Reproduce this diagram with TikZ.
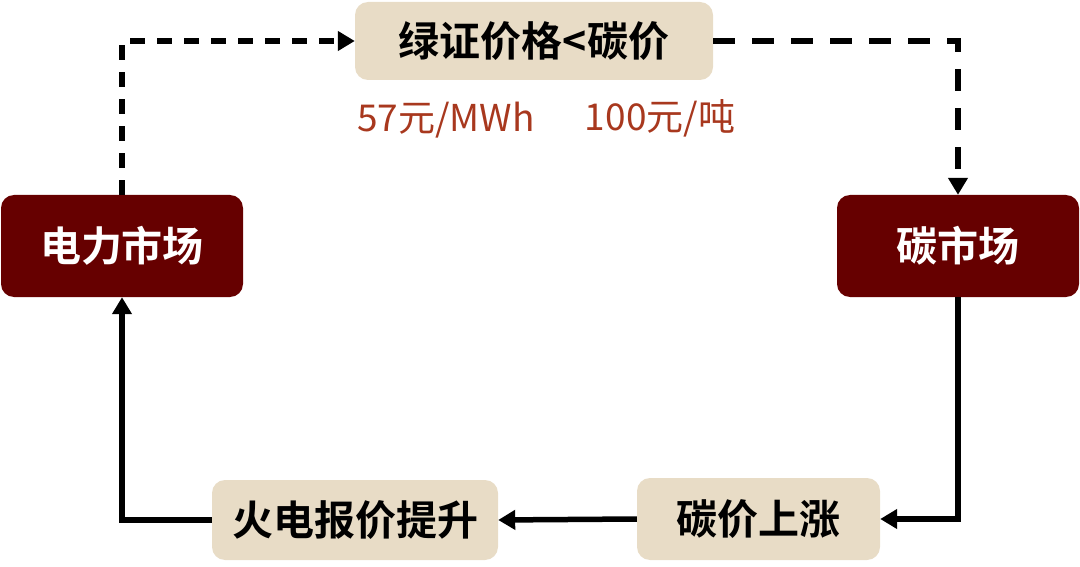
\documentclass[tikz,border=0pt]{standalone}
\usepackage{fontspec}
\newfontfamily\cjkb[BoldFont={* Bold}]{Noto Sans CJK SC}
\usetikzlibrary{arrows.meta}
\definecolor{darkbox}{HTML}{660000}
\definecolor{beige}{HTML}{E8DCC6}
\definecolor{lblred}{HTML}{A8381E}
\tikzset{
  darkst/.style={fill=darkbox, rounded corners=13pt, text=white, font=\cjkb\bfseries\fontsize{41}{46}\selectfont, inner sep=0pt},
  lightst/.style={fill=beige, rounded corners=13pt, text=black, font=\cjkb\bfseries\fontsize{41}{46}\selectfont, inner sep=0pt},
  lbl/.style={text=lblred, font=\cjkb\fontsize{37}{42}\selectfont, inner sep=0pt},
  conn/.style={line width=5.5pt, -{Triangle[length=17pt,width=19pt]}},
  dconnA/.style={conn, dash pattern=on 15pt off 12pt},
  dconnB/.style={conn, dash pattern=on 22pt off 17pt}
}
\begin{document}
\begin{tikzpicture}[x=1pt,y=-1pt]
\useasboundingbox (0,0) rectangle (1080,567);
\node[lightst, minimum width=358pt, minimum height=78pt] (top) at (534,41) {绿证价格<碳价};
\node[darkst, minimum width=242pt, minimum height=102pt] (pm) at (122,246) {电力市场};
\node[darkst, minimum width=242pt, minimum height=102pt] (cm) at (958,246) {碳市场};
\node[lightst, minimum width=286pt, minimum height=80pt] (hd) at (355,520) {火电报价提升};
\node[lightst, minimum width=243pt, minimum height=82pt] (cj) at (758.5,519) {碳价上涨};
\node[lbl] (l1) at (446,120) {57元/MWh};
\node[lbl] (l2) at (660,118) {100元/吨};
\draw[dconnA] (pm.north) |- (top.west);
\draw[dconnB] (top.east) -| (cm.north);
\draw[conn] (cm.south) |- (cj.east);
\draw[conn] (cj.west) -- (hd.east);
\draw[conn] (hd.west) -| (pm.south);
\end{tikzpicture}
\end{document}
